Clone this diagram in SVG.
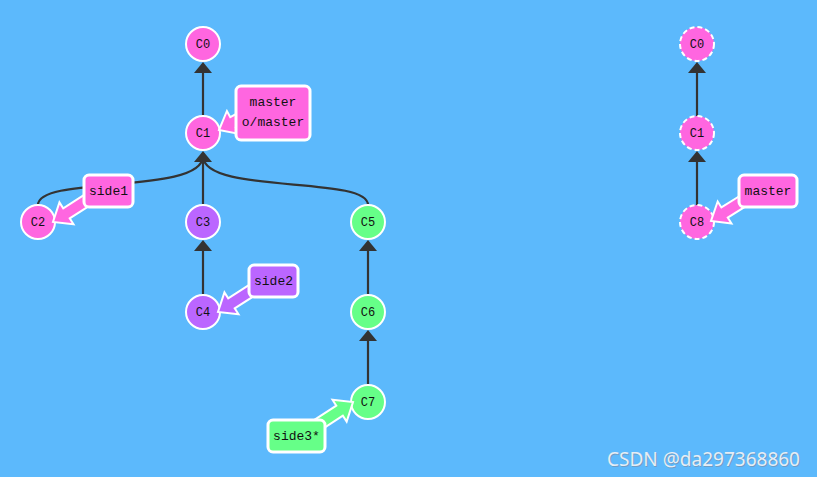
<svg xmlns="http://www.w3.org/2000/svg" width="817" height="477" viewBox="0 0 817 477">
<style>
.edge{fill:none;stroke:#333;stroke-width:2.2}
.head{fill:#333}
.node{stroke:#fff;stroke-width:2}
.dash{stroke-dasharray:5 3}
.pink{fill:#ff66e0}
.purple{fill:#bb66ff}
.green{fill:#66ff88}
.nt{font-family:"Liberation Mono",monospace;font-size:12px;fill:#111;text-anchor:middle}
.bt{font-family:"Liberation Mono",monospace;font-size:13px;fill:#111;text-anchor:middle}
.box{stroke:#fff;stroke-width:3}
.fat{stroke:#fff;stroke-width:2;stroke-linejoin:miter}
</style>
<rect x="0" y="0" width="817" height="477" fill="#5cb9fc"/>
<g id="connectors">
<line class="edge" x1="203" y1="115" x2="203" y2="70"/>
<polygon class="head" points="203,62 212,73 194,73"/>
<line class="edge" x1="203" y1="205" x2="203" y2="158"/>
<path class="edge" d="M38,205 C38,175 203,195 203,156"/>
<path class="edge" d="M368,205 C368,175 203,195 203,156"/>
<polygon class="head" points="203,151 212,162 194,162"/>
<line class="edge" x1="203" y1="295" x2="203" y2="248"/>
<polygon class="head" points="203,240 212,251 194,251"/>
<line class="edge" x1="368" y1="295" x2="368" y2="248"/>
<polygon class="head" points="368,240 377,251 359,251"/>
<line class="edge" x1="368" y1="385" x2="368" y2="338"/>
<polygon class="head" points="368,330 377,341 359,341"/>
<line class="edge" x1="697" y1="116" x2="697" y2="70"/>
<polygon class="head" points="697,62 706,73 688,73"/>
<line class="edge" x1="697" y1="205" x2="697" y2="159"/>
<polygon class="head" points="697,151 706,162 688,162"/>
</g>
<g id="C0"><circle class="node pink" cx="203" cy="44" r="17"/><text class="nt" x="203" y="48">C0</text></g>
<g id="C1"><circle class="node pink" cx="203" cy="133" r="17"/><text class="nt" x="203" y="137">C1</text></g>
<g id="C2"><circle class="node pink" cx="38" cy="222" r="17"/><text class="nt" x="38" y="226">C2</text></g>
<g id="C3"><circle class="node purple" cx="203" cy="222" r="17"/><text class="nt" x="203" y="226">C3</text></g>
<g id="C4"><circle class="node purple" cx="203" cy="312" r="17"/><text class="nt" x="203" y="316">C4</text></g>
<g id="C5"><circle class="node green" cx="368" cy="222" r="17"/><text class="nt" x="368" y="226">C5</text></g>
<g id="C6"><circle class="node green" cx="368" cy="312" r="17"/><text class="nt" x="368" y="316">C6</text></g>
<g id="C7"><circle class="node green" cx="368" cy="402" r="17"/><text class="nt" x="368" y="406">C7</text></g>
<g id="R-C0"><circle class="node dash pink" cx="697" cy="44" r="17"/><text class="nt" x="697" y="48">C0</text></g>
<g id="R-C1"><circle class="node dash pink" cx="697" cy="133" r="17"/><text class="nt" x="697" y="137">C1</text></g>
<g id="R-C8"><circle class="node dash pink" cx="697" cy="222" r="17"/><text class="nt" x="697" y="226">C8</text></g>
<g id="branch-master">
<polygon class="fat pink" transform="translate(219,130) rotate(151.7)" points="-34,-6 -16,-6 -16,-13 0,0 -16,13 -16,6 -34,6"/>
<rect class="box pink" x="236" y="86" width="74" height="54" rx="5"/>
<text class="bt" x="273" y="106">master</text>
<text class="bt" x="273" y="126">o/master</text>
</g>
<g id="branch-side1">
<polygon class="fat pink" transform="translate(53,222) rotate(147.3)" points="-50,-6 -16,-6 -16,-13 0,0 -16,13 -16,6 -50,6"/>
<rect class="box pink" x="84" y="175" width="49" height="32" rx="5"/>
<text class="bt" x="108.5" y="195">side1</text>
</g>
<g id="branch-side2">
<polygon class="fat purple" transform="translate(218,312) rotate(147.3)" points="-50,-6 -16,-6 -16,-13 0,0 -16,13 -16,6 -50,6"/>
<rect class="box purple" x="249" y="265" width="49" height="32" rx="5"/>
<text class="bt" x="273.5" y="285">side2</text>
</g>
<g id="branch-side3">
<polygon class="fat green" transform="translate(353,402) rotate(-33)" points="-50,-6 -16,-6 -16,-13 0,0 -16,13 -16,6 -50,6"/>
<rect class="box green" x="268" y="420" width="57" height="32" rx="5"/>
<text class="bt" x="296.5" y="440">side3*</text>
</g>
<g id="branch-master-right">
<polygon class="fat pink" transform="translate(711,221) rotate(148)" points="-47,-6 -16,-6 -16,-13 0,0 -16,13 -16,6 -47,6"/>
<rect class="box pink" x="739" y="175" width="58" height="32" rx="5"/>
<text class="bt" x="768" y="195">master</text>
</g>
<text x="800" y="466" text-anchor="end" font-family="Noto Sans, sans-serif" font-size="19" fill="#7a8aa0" opacity="0.6" transform="translate(1,1)">CSDN @da297368860</text>
<text x="800" y="466" text-anchor="end" font-family="Noto Sans, sans-serif" font-size="19" fill="#e6edf5">CSDN @da297368860</text>
</svg>
